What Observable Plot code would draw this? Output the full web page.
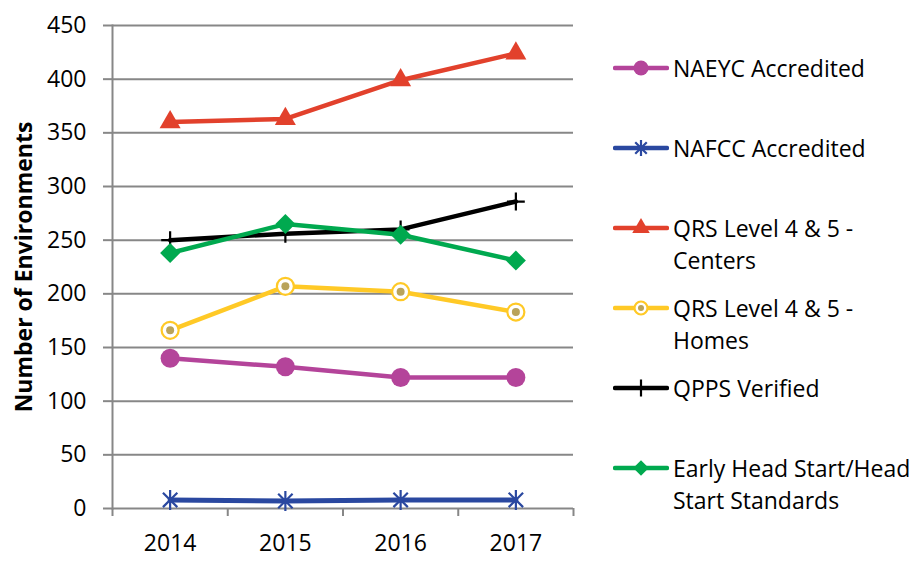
<!DOCTYPE html>
<html>
<head>
<meta charset="utf-8">
<script src="https://cdn.jsdelivr.net/npm/d3@7"></script>
<script src="https://cdn.jsdelivr.net/npm/@observablehq/plot@0.6"></script>
<style>
  html, body { margin: 0; padding: 0; background: #fff; }
  #wrap { position: relative; width: 923px; height: 561px; overflow: hidden; font-family: "Open Sans", sans-serif; }
  #wrap svg g[aria-label="y-axis label"] text { font-weight: bold; }
  #legend { position: absolute; left: 613px; top: 52px; }
  .item { height: 80px; display: flex; align-items: flex-start; }
  .item svg { flex: none; width: 56px; height: 32px; margin-right: 4px; }
  .item .lab { font-size: 23px; line-height: 32px; white-space: nowrap; color: #000; }
</style>
</head>
<body>
<div id="wrap"><div id="legend"></div></div>
<script>
const years = [2014, 2015, 2016, 2017];
const seriesNames = [
  "NAEYC Accredited",
  "NAFCC Accredited",
  "QRS Level 4 & 5 - Centers",
  "QRS Level 4 & 5 - Homes",
  "QPPS Verified",
  "Early Head Start/Head Start Standards"
];
const legendLines = [
  ["NAEYC Accredited"],
  ["NAFCC Accredited"],
  ["QRS Level 4 & 5 -", "Centers"],
  ["QRS Level 4 & 5 -", "Homes"],
  ["QPPS Verified"],
  ["Early Head Start/Head", "Start Standards"]
];
const naeyc = [140, 132, 122, 122];
const nafcc = [8, 7, 8, 8];
const qrsCenters = [360, 363, 399, 424];
const qrsHomes = [166, 207, 202, 183];
const qpps = [250, 256, 260, 286];
const ehs = [238, 265, 255, 231];
const yTicks = [0, 50, 100, 150, 200, 250, 300, 350, 400, 450];

const seriesValues = [naeyc, nafcc, qrsCenters, qrsHomes, qpps, ehs];
const colors = ["#B4449A", "#2A48A0", "#E2412C", "#FFC926", "#000000", "#00A94F"];
const innerDot = "#B9A35A";

const rows = seriesNames.flatMap((s, i) => years.map((yr, j) => ({series: s, idx: i, year: yr, value: seriesValues[i][j]})));
const bounds = [years[0] - 0.5, ...years.map(y => y + 0.5)];
const grid = "#878787";

// Excel-style "star" marker: vertical line plus an X
const starSymbol = {
  draw(ctx, size) {
    const r = Math.sqrt(size / Math.PI);
    const d = r * 0.72;
    ctx.moveTo(0, -r); ctx.lineTo(0, r);
    ctx.moveTo(-d, -d); ctx.lineTo(d, d);
    ctx.moveTo(-d, d); ctx.lineTo(d, -d);
  }
};

function seriesMarks(i) {
  const d = rows.filter(r => r.idx === i);
  const c = colors[i];
  const line = Plot.line(d, {x: "year", y: "value", stroke: c, strokeWidth: i === 1 ? 5 : 4.5});
  switch (i) {
    case 0: return [line, Plot.dot(d, {x: "year", y: "value", symbol: "circle", r: 9.5, fill: c})];
    case 1: return [line, Plot.dot(d, {x: "year", y: "value", symbol: starSymbol, r: 10, stroke: c, strokeWidth: 2.2})];
    case 2: return [line, Plot.dot(d, {x: "year", y: "value", symbol: "triangle", r: 7.8, fill: c})];
    case 3: return [line,
      Plot.dot(d, {x: "year", y: "value", symbol: "circle", r: 8.5, fill: "#fff", stroke: c, strokeWidth: 2.2}),
      Plot.dot(d, {x: "year", y: "value", symbol: "circle", r: 4, fill: innerDot})];
    case 4: return [line, Plot.dot(d, {x: "year", y: "value", symbol: "plus", r: 5.8, stroke: c, strokeWidth: 2.2})];
    case 5: return [line, Plot.dot(d, {x: "year", y: "value", symbol: "diamond2", r: 9, fill: c})];
  }
}

const chart = Plot.plot({
  width: 923,
  height: 561,
  marginLeft: 112,
  marginRight: 350,
  marginTop: 25,
  marginBottom: 53,
  style: {fontFamily: "Open Sans, sans-serif", fontSize: "23px", color: "#000", background: "transparent"},
  x: {domain: [bounds[0], bounds[bounds.length - 1]], label: null},
  y: {domain: [0, 450], label: null},
  marks: [
    Plot.gridY(yTicks, {stroke: grid, strokeWidth: 2, strokeOpacity: 1}),
    Plot.frame({anchor: "left", stroke: grid, strokeWidth: 2}),
    Plot.axisY(yTicks, {tickSize: 9, tickPadding: 17, stroke: grid, strokeWidth: 2, fontSize: 23,
      label: "Number of Environments", labelAnchor: "center", labelArrow: "none", labelOffset: 97}),
    Plot.axisX(years, {tickSize: 0, tickPadding: 26, fontSize: 23, tickFormat: d => String(d), label: null}),
    Plot.axisX(bounds, {tickSize: 8, stroke: grid, strokeWidth: 2, tickFormat: () => "", label: null}),
    ...seriesNames.flatMap((s, i) => seriesMarks(i))
  ]
});
document.getElementById("wrap").prepend(chart);

// Legend
const legend = d3.select("#legend");
seriesNames.forEach((s, i) => {
  const item = legend.append("div").attr("class", "item");
  const svg = item.append("svg").attr("viewBox", "0 0 56 32");
  const c = colors[i];
  svg.append("line").attr("x1", 2).attr("x2", 54).attr("y1", 16).attr("y2", 16)
    .attr("stroke", c).attr("stroke-width", 4.5).attr("stroke-linecap", "round");
  const sym = {0: d3.symbolCircle, 1: starSymbol, 2: d3.symbolTriangle, 3: d3.symbolCircle, 4: d3.symbolPlus, 5: d3.symbolDiamond2}[i];
  const rr = [7.5, 8, 6.5, 6.5, 5.5, 7][i];
  const p = svg.append("path").attr("transform", "translate(28,16)")
    .attr("d", d3.symbol(sym, Math.PI * rr * rr)());
  if (i === 1 || i === 4) p.attr("fill", "none").attr("stroke", c).attr("stroke-width", 2.2);
  else if (i === 3) {
    p.attr("fill", "#fff").attr("stroke", c).attr("stroke-width", 2.2);
    svg.append("circle").attr("cx", 28).attr("cy", 16).attr("r", 3).attr("fill", innerDot);
  } else p.attr("fill", c);
  const lab = item.append("div").attr("class", "lab");
  lab.html(legendLines[i].map(t => t.replace(/&/g, "&amp;")).join("<br>"));
});
</script>
</body>
</html>
